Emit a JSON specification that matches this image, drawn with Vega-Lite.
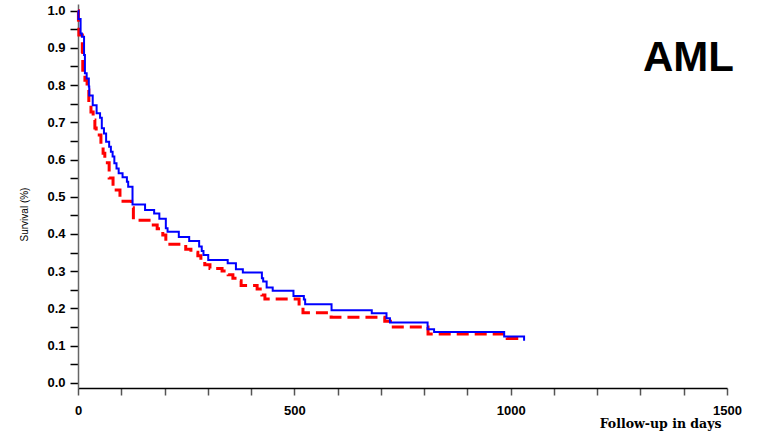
{
  "$schema": "https://vega.github.io/schema/vega-lite/v6.json",
  "width": 649,
  "height": 384,
  "autosize": {"type": "none"},
  "padding": {"left": 78, "top": 4, "right": 48, "bottom": 59},
  "background": "#ffffff",
  "config": {"view": {"stroke": null}, "axis": {"labelOverlap": false, "labelSeparation": 0, "labelBound": false}},
  "datasets": {
    "blue": [
      {"t": 0, "s": 1.0}, {"t": 1, "s": 0.978}, {"t": 6, "s": 0.939}, {"t": 9, "s": 0.930}, {"t": 14, "s": 0.881},
      {"t": 16, "s": 0.832}, {"t": 20, "s": 0.818}, {"t": 25, "s": 0.796}, {"t": 26, "s": 0.772}, {"t": 34, "s": 0.746},
      {"t": 43, "s": 0.724}, {"t": 51, "s": 0.712}, {"t": 55, "s": 0.684}, {"t": 60, "s": 0.670}, {"t": 65, "s": 0.648},
      {"t": 72, "s": 0.634}, {"t": 76, "s": 0.621}, {"t": 80, "s": 0.608}, {"t": 84, "s": 0.590}, {"t": 89, "s": 0.576},
      {"t": 94, "s": 0.563}, {"t": 103, "s": 0.552}, {"t": 113, "s": 0.540}, {"t": 116, "s": 0.527}, {"t": 126, "s": 0.479},
      {"t": 155, "s": 0.464}, {"t": 176, "s": 0.455}, {"t": 188, "s": 0.441}, {"t": 203, "s": 0.415}, {"t": 207, "s": 0.406},
      {"t": 233, "s": 0.392}, {"t": 257, "s": 0.381}, {"t": 280, "s": 0.366}, {"t": 286, "s": 0.354}, {"t": 290, "s": 0.343},
      {"t": 301, "s": 0.330}, {"t": 346, "s": 0.321}, {"t": 365, "s": 0.305}, {"t": 381, "s": 0.296}, {"t": 425, "s": 0.281},
      {"t": 428, "s": 0.272}, {"t": 436, "s": 0.256}, {"t": 450, "s": 0.247}, {"t": 498, "s": 0.233}, {"t": 522, "s": 0.224},
      {"t": 525, "s": 0.211}, {"t": 586, "s": 0.195}, {"t": 679, "s": 0.187}, {"t": 713, "s": 0.173}, {"t": 721, "s": 0.162},
      {"t": 808, "s": 0.144}, {"t": 823, "s": 0.136}, {"t": 985, "s": 0.124}, {"t": 1031, "s": 0.113}
    ],
    "red": [
      {"t": 0, "s": 1.0}, {"t": 1, "s": 0.975}, {"t": 2, "s": 0.935}, {"t": 10, "s": 0.89}, {"t": 11, "s": 0.84},
      {"t": 16, "s": 0.813}, {"t": 21, "s": 0.787}, {"t": 25, "s": 0.752}, {"t": 30, "s": 0.728}, {"t": 35, "s": 0.706},
      {"t": 39, "s": 0.685}, {"t": 42, "s": 0.666}, {"t": 53, "s": 0.639}, {"t": 58, "s": 0.617}, {"t": 62, "s": 0.591},
      {"t": 72, "s": 0.550}, {"t": 81, "s": 0.518}, {"t": 97, "s": 0.488}, {"t": 124, "s": 0.47}, {"t": 128, "s": 0.437},
      {"t": 174, "s": 0.424}, {"t": 183, "s": 0.414}, {"t": 196, "s": 0.397}, {"t": 203, "s": 0.372}, {"t": 249, "s": 0.359},
      {"t": 261, "s": 0.351}, {"t": 277, "s": 0.341}, {"t": 284, "s": 0.327}, {"t": 293, "s": 0.317}, {"t": 305, "s": 0.307},
      {"t": 333, "s": 0.300}, {"t": 347, "s": 0.290}, {"t": 358, "s": 0.281}, {"t": 367, "s": 0.274}, {"t": 377, "s": 0.261},
      {"t": 414, "s": 0.252}, {"t": 425, "s": 0.236}, {"t": 432, "s": 0.225}, {"t": 511, "s": 0.207}, {"t": 520, "s": 0.188},
      {"t": 585, "s": 0.176}, {"t": 709, "s": 0.165}, {"t": 722, "s": 0.150}, {"t": 809, "s": 0.131}, {"t": 992, "s": 0.119},
      {"t": 1027, "s": 0.119}
    ]
  },
  "layer": [
    {
      "data": {"name": "red"},
      "mark": {"type": "line", "interpolate": "step-after", "color": "#ff0000", "strokeWidth": 3, "strokeDash": [12, 6]},
      "encoding": {
        "x": {
          "field": "t", "type": "quantitative",
          "scale": {"domain": [0, 1500], "nice": false, "zero": false},
          "axis": {
            "title": "Follow-up in days",
            "titleFont": "DejaVu Serif", "titleFontSize": 12.5, "titleFontWeight": "bold", "titleColor": "#000000",
            "titleX": 643, "titleY": 35, "titleAlign": "right", "titleBaseline": "middle", "titleAnchor": null,
            "values": [0, 100, 200, 300, 400, 500, 600, 700, 800, 900, 1000, 1100, 1200, 1300, 1400, 1500],
            "tickCount": 100,
            "labelExpr": "datum.value % 500 === 0 ? format(datum.value, 'd') : ''",
            "labelFont": "Liberation Sans", "labelFontSize": 13, "labelFontWeight": "bold", "labelColor": "#000000",
            "labelPadding": 9, "labelOverlap": false, "labelFlush": false,
            "tickSize": 7, "tickColor": "#555555", "tickWidth": 1.5,
            "domainColor": "#000000", "domainWidth": 1.5,
            "grid": false
          }
        },
        "y": {
          "field": "s", "type": "quantitative",
          "scale": {"domain": [-0.0142, 1.018], "nice": false, "zero": false},
          "axis": {
            "title": "Survival (%)",
            "titleFont": "Liberation Sans", "titleFontSize": 10, "titleFontWeight": "normal", "titleColor": "#000000",
            "titleX": -54, "titleY": 210, "titleAlign": "center", "titleBaseline": "middle", "titleAngle": 270,
            "values": [0, 0.05, 0.1, 0.15, 0.2, 0.25, 0.3, 0.35, 0.4, 0.45, 0.5, 0.55, 0.6, 0.65, 0.7, 0.75, 0.8, 0.85, 0.9, 0.95, 1.0],
            "tickCount": 100,
            "labelExpr": "abs(datum.value * 10 - round(datum.value * 10)) < 0.01 ? format(datum.value, '.1f') : ''",
            "labelFont": "Liberation Sans", "labelFontSize": 13, "labelFontWeight": "bold", "labelColor": "#000000",
            "labelPadding": 5, "labelOverlap": false, "labelFlush": false,
            "tickSize": 8, "tickColor": "#000000", "tickWidth": 1.5,
            "domainColor": "#666666", "domainWidth": 1.5,
            "grid": false
          }
        }
      }
    },
    {
      "data": {"name": "blue"},
      "mark": {"type": "line", "interpolate": "step-after", "color": "#0000ff", "strokeWidth": 2},
      "encoding": {
        "x": {"field": "t", "type": "quantitative"},
        "y": {"field": "s", "type": "quantitative"}
      }
    },
    {
      "data": {"values": [{"label": "AML"}]},
      "mark": {"type": "text", "align": "right", "baseline": "alphabetic", "dx": 7, "font": "Liberation Sans", "fontSize": 42, "fontWeight": "bold", "color": "#000000"},
      "encoding": {
        "text": {"field": "label"},
        "x": {"datum": 1500, "type": "quantitative"},
        "y": {"datum": 0.839, "type": "quantitative"}
      }
    }
  ]
}
